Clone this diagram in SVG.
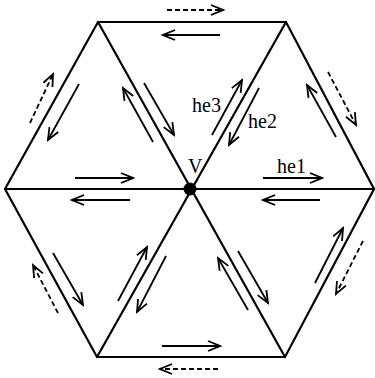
<svg xmlns="http://www.w3.org/2000/svg" width="375" height="378" viewBox="0 0 375 378">
<defs>
<marker id="ah" markerUnits="userSpaceOnUse" markerWidth="16" markerHeight="16" viewBox="-14 -8 16 16" refX="0" refY="0" orient="auto">
<path d="M-12,-5 L0,0 L-12,5" fill="none" stroke="#000" stroke-width="1.8"/>
</marker>
</defs>
<style>
.edge{stroke:#000;stroke-width:2.2;fill:none;stroke-linecap:round}
.he{stroke:#000;stroke-width:1.8;fill:none;marker-end:url(#ah)}
.dash{stroke-dasharray:5 3}
.lbl{font-family:"Liberation Serif","Times New Roman",serif;font-size:20px;fill:#000}
</style>
<rect width="375" height="378" fill="#fff"/>
<g id="mesh">
<polygon class="edge" points="5,189 98,22 286,22 374,189 285,357 97,357"/>
<line class="edge" x1="5" y1="189" x2="374" y2="189"/>
<line class="edge" x1="98" y1="22" x2="285" y2="357"/>
<line class="edge" x1="286" y1="22" x2="97" y2="357"/>
</g>
<g id="V">
<circle cx="190" cy="189" r="6.5" fill="#000"/>
<text class="lbl" x="188" y="173">V</text>
</g>
<g id="labels">
<text class="lbl" x="192" y="112">he3</text>
<text class="lbl" x="248" y="128">he2</text>
<text class="lbl" x="277" y="173">he1</text>
</g>
<g id="halfedges">
<line class="he" x1="220" y1="35" x2="163" y2="35"/>
<line class="he dash" x1="167" y1="10" x2="223" y2="10"/>
<line class="he dash" x1="30" y1="123" x2="53" y2="74"/>
<line class="he" x1="79" y1="84" x2="48" y2="140"/>
<line class="he" x1="153" y1="142" x2="123" y2="88"/>
<line class="he" x1="144" y1="83" x2="174" y2="135"/>
<line class="he" x1="75" y1="178" x2="133" y2="178"/>
<line class="he" x1="212" y1="135" x2="242" y2="80"/>
<line class="he" x1="259" y1="88" x2="229" y2="145"/>
<line class="he" x1="263" y1="178" x2="322" y2="178"/>
<line class="he" x1="336" y1="137" x2="307" y2="85"/>
<line class="he dash" x1="328" y1="72" x2="356" y2="125"/>
<line class="he" x1="130" y1="200" x2="72" y2="200"/>
<line class="he dash" x1="58" y1="313" x2="33" y2="265"/>
<line class="he" x1="53" y1="253" x2="83" y2="305"/>
<line class="he" x1="118" y1="301" x2="147" y2="247"/>
<line class="he" x1="166" y1="256" x2="137" y2="312"/>
<line class="he" x1="162" y1="346" x2="220" y2="346"/>
<line class="he dash" x1="218" y1="369" x2="160" y2="369"/>
<line class="he" x1="320" y1="200" x2="263" y2="200"/>
<line class="he" x1="248" y1="310" x2="218" y2="258"/>
<line class="he" x1="238" y1="251" x2="268" y2="303"/>
<line class="he" x1="315" y1="283" x2="343" y2="228"/>
<line class="he dash" x1="363" y1="241" x2="336" y2="294"/>
</g>
</svg>
